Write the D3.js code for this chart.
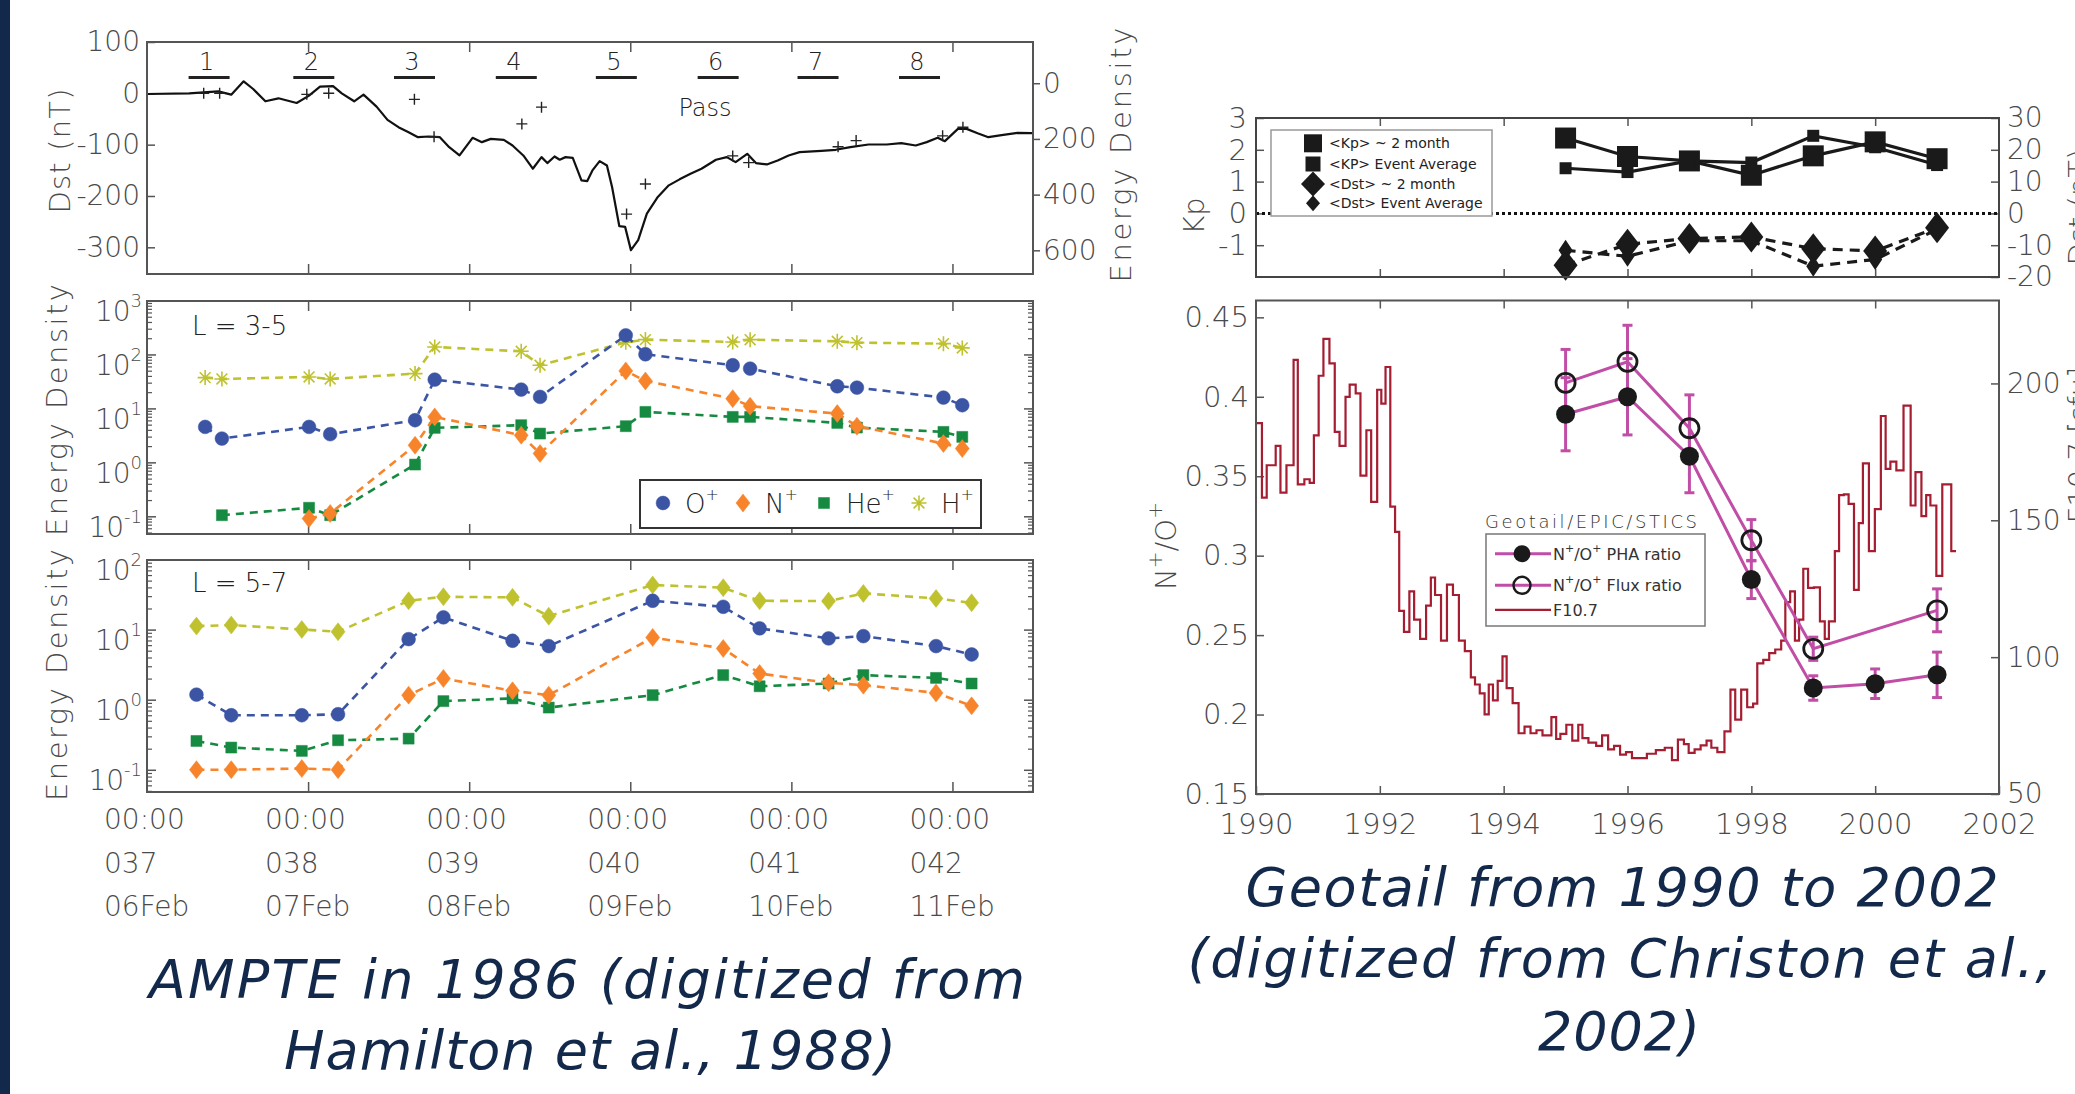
<!DOCTYPE html>
<html>
<head>
<meta charset="utf-8">
<script src="https://cdn.jsdelivr.net/npm/d3@7"></script>
<style>
  body { margin: 0; background: #fff; }
  svg text { font-family: "DejaVu Sans", sans-serif; }
</style>
</head>
<body>
<svg id="fig" width="2075" height="1094"></svg>
<script>
// ---------- AMPTE 1986 (left figure) ----------
// Dst trace, day of year 1986 vs nT
const dstDay = [37.000,37.262,37.442,37.523,37.600,37.659,37.735,37.816,37.929,38.006,38.074,38.155,38.209,38.286,38.344,38.425,38.493,38.561,38.624,38.682,38.750,38.818,38.876,38.940,39.021,39.079,39.134,39.215,39.269,39.336,39.395,39.449,39.485,39.530,39.562,39.598,39.643,39.697,39.733,39.765,39.810,39.855,39.887,39.932,39.968,40.004,40.049,40.103,40.171,40.239,40.306,40.374,40.442,40.532,40.599,40.654,40.726,40.780,40.848,40.915,40.983,41.051,41.186,41.276,41.366,41.479,41.592,41.682,41.772,41.840,41.908,41.953,42.034,42.088,42.156,42.223,42.305,42.404,42.494];
const dstVal = [-1.3,0,3.9,-2.6,23.3,8.4,-15.5,-9.7,-18.8,-4.5,12.9,14.2,0,-15.5,-2.6,-25.9,-51.8,-66.0,-75.7,-85.4,-84.1,-85.4,-104.9,-121.0,-86.7,-95.1,-88.7,-90.6,-101.6,-121.0,-146.9,-124.3,-135.9,-123.0,-129.4,-124.3,-125.6,-169.6,-170.9,-150.2,-132.0,-140.5,-182.5,-258.9,-260.2,-305.5,-286.1,-234.3,-201.9,-179.3,-167.6,-156.6,-146.9,-129.4,-124.3,-134.0,-117.8,-135.9,-138.5,-130.7,-121.0,-114.6,-112.0,-110.0,-104.9,-99.7,-99.7,-97.1,-101.6,-95.1,-86.7,-93.2,-69.3,-69.3,-77.7,-85.4,-81.6,-77.0,-77.7];

// total energy density (right axis of top panel, "+" marks)
const plusDay = [37.352,37.451,37.992,38.128,38.660,38.782,39.327,39.449,39.977,40.094,40.636,40.735,41.290,41.402,41.939,42.065];
const plusVal = [36,36,40,36,58,192,146,86,470,362,261,285,228,206,189,158];

const passLabels = ["1","2","3","4","5","6","7","8"];
const passDay = [37.37,38.02,38.645,39.277,39.898,40.53,41.15,41.78];

const dayTicks = [37,38,39,40,41,42];
const dayTime = ["00:00","00:00","00:00","00:00","00:00","00:00"];
const dayDoy = ["037","038","039","040","041","042"];
const dayDate = ["06Feb","07Feb","08Feb","09Feb","10Feb","11Feb"];

// L = 3-5
const tL35 = [37.361,37.465,38.006,38.137,38.664,38.786,39.323,39.440,39.972,40.094,40.636,40.744,41.285,41.407,41.944,42.061];
const oL35 = [4.64,2.82,4.64,3.40,6.17,34.9,22.8,16.7,231,103,64.4,55.8,26.3,24.8,16.2,11.7];
const nL35 = [null,null,0.093,0.115,2.12,7.11,3.25,1.49,50.6,33.0,15.5,11.2,8.2,4.78,2.28,1.84];
const heL35 = [null,0.107,0.147,0.107,0.93,4.45,4.99,3.49,4.78,8.8,7.11,7.11,5.5,4.51,3.75,3.03];
const hL35 = [38.0,35.9,39.1,35.9,45.1,140.6,116.9,64.4,171.8,192.4,174,192,179,169,162,135];

// L = 5-7
const tL57 = [37.307,37.523,37.961,38.186,38.624,38.840,39.269,39.494,40.139,40.577,40.803,41.231,41.447,41.898,42.119];
const oL57 = [1.20,0.61,0.61,0.63,7.43,15.2,7.04,5.91,26.2,21.5,10.6,7.6,8.2,5.91,4.49];
const nL57 = [0.102,0.102,0.106,0.102,1.18,2.04,1.36,1.18,7.85,5.47,2.40,1.77,1.64,1.27,0.83];
const heL57 = [0.262,0.211,0.189,0.268,0.283,0.97,1.06,0.785,1.18,2.28,1.58,1.73,2.28,2.08,1.73];
const hL57 = [11.4,11.8,10.2,9.47,26.2,29.9,29.3,15.8,44.0,40.3,26.2,25.9,33.4,28.3,24.5];

// ---------- Geotail 1990-2002 (right figure) ----------
const kpYears = [1995,1996,1997,1998,1999,2000,2001];
const kp2mo = [2.37,1.79,1.65,1.2,1.81,2.25,1.72];
const kpEvt = [1.42,1.3,1.65,1.6,2.44,2.08,1.52];
const dst2mo = [-16.3,-9.7,-7.9,-7.4,-11.1,-11.8,-4.5];
const dstEvt = [-11.6,-13.5,-8.6,-8.6,-16.6,-14.5,-5.0];

const phaYears = [1995,1996,1997,1998,1999,2000,2001];
const phaRatio = [0.389,0.400,0.3626,0.285,0.2167,0.2194,0.225];
const phaErr = [0.023,0.024,0.023,0.012,0.0077,0.0093,0.0143];
const fluxYears = [1995,1996,1997,1998,1999,2001];
const fluxRatio = [0.4088,0.422,0.3802,0.3097,0.2414,0.2656];
const fluxErr = [0.021,0.023,0.021,0.013,0.0073,0.0135];

// F10.7 (step series, value holds until next year entry)
const f107Year = [1990.000,1990.096,1990.173,1990.318,1990.395,1990.492,1990.607,1990.675,1990.781,1990.867,1990.935,1991.012,1991.089,1991.186,1991.272,1991.349,1991.446,1991.513,1991.610,1991.687,1991.783,1991.860,1991.957,1992.024,1992.092,1992.169,1992.246,1992.313,1992.390,1992.477,1992.554,1992.651,1992.747,1992.824,1992.892,1992.988,1993.084,1993.181,1993.277,1993.373,1993.470,1993.537,1993.614,1993.692,1993.759,1993.827,1993.904,1993.981,1994.048,1994.145,1994.241,1994.337,1994.434,1994.530,1994.627,1994.771,1994.848,1994.916,1995.012,1995.108,1995.205,1995.272,1995.369,1995.494,1995.590,1995.687,1995.783,1995.880,1995.976,1996.072,1996.169,1996.313,1996.458,1996.602,1996.718,1996.814,1996.911,1996.988,1997.084,1997.181,1997.277,1997.354,1997.451,1997.566,1997.663,1997.740,1997.836,1997.933,1998.029,1998.096,1998.193,1998.289,1998.386,1998.482,1998.549,1998.627,1998.704,1998.771,1998.839,1998.916,1999.012,1999.108,1999.186,1999.253,1999.349,1999.417,1999.494,1999.571,1999.658,1999.735,1999.802,1999.899,1999.995,2000.092,2000.169,2000.246,2000.342,2000.458,2000.573,2000.651,2000.747,2000.824,2000.892,2000.988,2001.084,2001.152,2001.229,2001.306];
const f107Val = [185.5,158.3,170.1,177.2,160.1,170.1,208.6,163.1,165.0,163.7,181.0,202.8,216.3,207.3,182.3,177.2,195.1,199.6,196.4,166.3,182.9,156.7,197.7,192.6,206.0,155.0,145.8,116.9,109.2,124.0,113.7,106.7,118.8,129.1,122.7,106.0,126.5,122.7,106.0,102.2,92.6,90.0,86.8,79.1,90.0,84.2,91.3,100.3,88.7,83.2,72.2,74.6,72.2,73.3,71.4,78.1,70.1,72.0,75.3,69.5,75.3,70.4,68.8,67.6,71.4,66.3,67.6,64.4,65.3,63.1,63.1,64.7,66.0,66.9,62.4,69.9,68.2,65.0,66.3,67.8,69.5,66.9,65.3,72.9,88.1,77.2,88.1,81.7,83.0,97.7,99.0,101.5,102.8,106.0,120.1,124.0,106.0,113.7,132.3,125.3,125.5,113.1,106.7,113.1,138.7,159.2,159.5,156.0,124.6,149.0,170.8,138.7,154.1,188.1,168.8,171.4,168.2,191.9,155.4,167.6,151.5,159.2,155.4,129.7,163.1,163.1,138.7,138.7];

const yearTicks = [1990,1992,1994,1996,1998,2000,2002];

// ---------- drawing ----------
const W = 2075, H = 1094;
const FW = 300;
const TXT = "#4a4a4a";
const AX = "#555";
const C = { o: "#3b54a4", n: "#f7842a", he: "#168a40", h: "#bfc22e", mag: "#c14ea6", red: "#a51d31", navy: "#13294b" };

const svg = d3.select("#fig");
svg.append("rect").attr("width", W).attr("height", H).attr("fill", "#fff");
svg.append("rect").attr("width", 10).attr("height", H).attr("fill", C.navy);

const diamond = (w, h) => `M0,${-h / 2}L${w / 2},0L0,${h / 2}L${-w / 2},0Z`;
const square = s => `M${-s / 2},${-s / 2}h${s}v${s}h${-s}Z`;
const asterisk = s => { const a = s / 2, b = a * 0.72; return `M0,${-a}V${a}M${-a},0H${a}M${-b},${-b}L${b},${b}M${-b},${b}L${b},${-b}`; };
const plus = s => `M0,${-s / 2}V${s / 2}M${-s / 2},0H${s / 2}`;

function styleAxis(g, size) {
  g.select(".domain").remove();
  g.selectAll(".tick line").attr("stroke", AX).attr("stroke-width", 1.5);
  g.selectAll(".tick text").attr("fill", TXT).attr("font-size", size || 28)
    .attr("font-family", "DejaVu Sans, sans-serif").attr("font-weight", FW);
}

function frame(x0, x1, y0, y1, col, w) {
  svg.append("rect").attr("x", x0).attr("y", y0).attr("width", x1 - x0).attr("height", y1 - y0)
    .attr("fill", "none").attr("stroke", col || AX).attr("stroke-width", w || 2);
}

function supText(sel, parts, supSize, shift) {
  parts.forEach(([s, sup], i) => {
    const t = sel.append("tspan").text(s);
    if (sup) t.attr("font-size", supSize).attr("dy", -shift);
    else if (i > 0 && parts[i - 1][1]) t.attr("dy", shift);
  });
}

function vTitle(x, y, str, size, len, col) {
  const t = svg.append("text").attr("transform", `translate(${x},${y}) rotate(-90)`)
    .attr("text-anchor", "middle").attr("font-size", size).attr("font-weight", FW)
    .attr("fill", col || TXT).text(str);
  if (len) t.attr("textLength", len);
  return t;
}

// ===== left figure =====
const L = { x0: 147, x1: 1033 };
const P1 = { y0: 42, y1: 274 }, P2 = { y0: 301, y1: 534 }, P3 = { y0: 560, y1: 792 };
const xDay = d3.scaleLinear().domain([37, 42.5]).range([L.x0, L.x1]);
const yDst = d3.scaleLinear().domain([-352, 100]).range([P1.y1, P1.y0]);
const yEn = d3.scaleLinear().domain([-148, 685]).range([P1.y0, P1.y1]);
const yL35 = d3.scaleLog().domain([0.048, 1000]).range([P2.y1, P2.y0]);
const yL57 = d3.scaleLog().domain([0.049, 100]).range([P3.y1, P3.y0]);

[P1, P2, P3].forEach(p => {
  styleAxis(svg.append("g").attr("transform", `translate(0,${p.y1})`)
    .call(d3.axisBottom(xDay).tickValues(dayTicks.slice(1)).tickSizeInner(-10).tickSizeOuter(0).tickFormat("")));
  styleAxis(svg.append("g").attr("transform", `translate(0,${p.y0})`)
    .call(d3.axisTop(xDay).tickValues(dayTicks.slice(1)).tickSizeInner(-10).tickSizeOuter(0).tickFormat("")));
});

// top panel axes
styleAxis(svg.append("g").attr("transform", `translate(${L.x0},0)`)
  .call(d3.axisLeft(yDst).tickValues([100, 0, -100, -200, -300]).tickSizeInner(-8).tickSizeOuter(0).tickPadding(7).tickFormat(d => String(d))));
styleAxis(svg.append("g").attr("transform", `translate(${L.x1},0)`)
  .call(d3.axisRight(yEn).tickValues([0, 200, 400, 600]).tickSizeInner(7).tickSizeOuter(0).tickPadding(3).tickFormat(d => String(d))));

// log axes
function logAxis(scale, decades, p) {
  const g = svg.append("g");
  const minor = scale.ticks().filter(v => !decades.includes(v));
  [[L.x0, 1], [L.x1, -1]].forEach(([x, k]) => {
    g.selectAll(null).data(decades).join("line")
      .attr("x1", x).attr("x2", x + 9 * k).attr("y1", d => scale(d)).attr("y2", d => scale(d))
      .attr("stroke", AX).attr("stroke-width", 1.5);
    g.selectAll(null).data(minor).join("line")
      .attr("x1", x).attr("x2", x + 5 * k).attr("y1", d => scale(d)).attr("y2", d => scale(d))
      .attr("stroke", AX).attr("stroke-width", 1.2);
  });
  decades.forEach(v => {
    const t = g.append("text").attr("x", L.x0 - 5).attr("y", scale(v) + 20)
      .attr("text-anchor", "end").attr("font-size", 28).attr("font-weight", FW).attr("fill", TXT);
    supText(t, [["10", false], [String(Math.round(Math.log10(v))), true]], 18, 14);
  });
}
logAxis(yL35, [0.1, 1, 10, 100, 1000], P2);
logAxis(yL57, [0.1, 1, 10, 100], P3);

// Dst trace + energy density
const dstPts = dstDay.map((d, i) => [d, dstVal[i]]);
svg.append("path").datum(dstPts)
  .attr("d", d3.line().x(d => xDay(d[0])).y(d => yDst(d[1])))
  .attr("fill", "none").attr("stroke", "#111").attr("stroke-width", 2.2).attr("stroke-linejoin", "round");
svg.selectAll(null).data(plusDay.map((d, i) => [d, plusVal[i]])).join("path")
  .attr("transform", d => `translate(${xDay(d[0])},${yEn(d[1])})`)
  .attr("d", plus(11)).attr("stroke", "#222").attr("stroke-width", 1.4).attr("fill", "none");

// pass labels
passDay.forEach((d, i) => {
  svg.append("text").attr("x", xDay(d)).attr("y", 70).attr("text-anchor", "middle")
    .attr("font-size", 24).attr("font-weight", FW).attr("fill", "#222").text(passLabels[i]);
  svg.append("line").attr("x1", xDay(d) - 18).attr("x2", xDay(d) + 23).attr("y1", 77.5).attr("y2", 77.5)
    .attr("stroke", "#222").attr("stroke-width", 3);
});
svg.append("text").attr("x", 705).attr("y", 116).attr("text-anchor", "middle")
  .attr("font-size", 24).attr("font-weight", FW).attr("fill", "#222").text("Pass");

// species series
function series(times, vals, yS, col, mk, hollow) {
  const pts = times.map((t, i) => [t, vals[i]]).filter(d => d[1] != null);
  svg.append("path").datum(pts)
    .attr("d", d3.line().x(d => xDay(d[0])).y(d => yS(d[1])))
    .attr("fill", "none").attr("stroke", col).attr("stroke-width", 2.6).attr("stroke-dasharray", "8,6");
  svg.selectAll(null).data(pts).join("path")
    .attr("transform", d => `translate(${xDay(d[0])},${yS(d[1])})`)
    .attr("d", mk)
    .attr("fill", hollow ? "none" : col).attr("stroke", col).attr("stroke-width", hollow ? 1.6 : 0.5);
}
const circ = d3.symbol(d3.symbolCircle, 150)();
series(tL35, hL35, yL35, C.h, asterisk(15), true);
series(tL35, heL35, yL35, C.he, square(11));
series(tL35, nL35, yL35, C.n, diamond(14, 18));
series(tL35, oL35, yL35, C.o, circ);

series(tL57, hL57, yL57, C.h, diamond(14, 18));
series(tL57, heL57, yL57, C.he, square(11));
series(tL57, nL57, yL57, C.n, diamond(14, 18));
series(tL57, oL57, yL57, C.o, circ);

frame(L.x0, L.x1, P1.y0, P1.y1);
frame(L.x0, L.x1, P2.y0, P2.y1);
frame(L.x0, L.x1, P3.y0, P3.y1);

// panel labels
svg.append("text").attr("x", 192).attr("y", 335).attr("font-size", 26).attr("font-weight", FW).attr("fill", "#222").text("L = 3-5");
svg.append("text").attr("x", 192).attr("y", 592).attr("font-size", 26).attr("font-weight", FW).attr("fill", "#222").text("L = 5-7");

// legend L=3-5
svg.append("rect").attr("x", 640).attr("y", 480).attr("width", 341).attr("height", 48)
  .attr("fill", "#fff").attr("stroke", "#333").attr("stroke-width", 2);
const legItems = [
  { x: 663, mk: circ, col: C.o, lab: "O", hollow: false },
  { x: 743, mk: diamond(14, 18), col: C.n, lab: "N", hollow: false },
  { x: 824, mk: square(11), col: C.he, lab: "He", hollow: false },
  { x: 919, mk: asterisk(15), col: C.h, lab: "H", hollow: true }
];
legItems.forEach(it => {
  svg.append("path").attr("transform", `translate(${it.x},503)`).attr("d", it.mk)
    .attr("fill", it.hollow ? "none" : it.col).attr("stroke", it.col).attr("stroke-width", it.hollow ? 1.6 : 0.5);
  const t = svg.append("text").attr("x", it.x + 22).attr("y", 513).attr("font-size", 26)
    .attr("font-weight", FW).attr("fill", "#222");
  supText(t, [[it.lab, false], ["+", true]], 16, 13);
});

// x labels (3 rows)
dayTicks.forEach((d, i) => {
  const x = xDay(d) - 43;
  [[dayTime[i], 829], [dayDoy[i], 873], [dayDate[i], 916]].forEach(([s, y]) => {
    svg.append("text").attr("x", x).attr("y", y).attr("font-size", 28).attr("font-weight", FW)
      .attr("fill", TXT).text(s);
  });
});

// axis titles (left figure)
vTitle(70, 151, "Dst (nT)", 29, 125);
vTitle(67, 410, "Energy Density", 29, 252);
vTitle(67, 675, "Energy Density", 29, 252);
vTitle(1131, 155, "Energy Density", 29, 255);

// ===== right figure =====
const R = { x0: 1256, x1: 1999 };
const K = { y0: 118, y1: 277 }, Q = { y0: 300.5, y1: 794 };
const xYr = d3.scaleLinear().domain([1990, 2002]).range([R.x0, R.x1]);
const yKp = d3.scaleLinear().domain([-2, 3]).range([K.y1, K.y0]);
const yDstR = d3.scaleLinear().domain([-20, 30]).range([K.y1, K.y0]);
const yRat = d3.scaleLinear().domain([0.15, 0.4606]).range([Q.y1, Q.y0]);
const yF = d3.scaleLinear().domain([50, 230.3]).range([Q.y1, Q.y0]);

[K, Q].forEach(p => {
  styleAxis(svg.append("g").attr("transform", `translate(0,${p.y0})`)
    .call(d3.axisTop(xYr).tickValues(yearTicks.slice(1, -1)).tickSizeInner(-8).tickSizeOuter(0).tickFormat("")));
});
styleAxis(svg.append("g").attr("transform", `translate(0,${K.y1})`)
  .call(d3.axisBottom(xYr).tickValues(yearTicks.slice(1, -1)).tickSizeInner(-8).tickSizeOuter(0).tickFormat("")));
styleAxis(svg.append("g").attr("transform", `translate(0,${Q.y1})`)
  .call(d3.axisBottom(xYr).tickValues(yearTicks).tickSizeInner(-8).tickSizeOuter(0).tickPadding(19).tickFormat(d => String(d))), 29);

styleAxis(svg.append("g").attr("transform", `translate(${R.x0},0)`)
  .call(d3.axisLeft(yKp).tickValues([-1, 0, 1, 2, 3]).tickSizeInner(-8).tickSizeOuter(0).tickPadding(9).tickFormat(d => String(d))), 29);
styleAxis(svg.append("g").attr("transform", `translate(${R.x1},0)`)
  .call(d3.axisRight(yDstR).tickValues([-20, -10, 0, 10, 20, 30]).tickSizeInner(-8).tickSizeOuter(0).tickPadding(8).tickFormat(d => String(d))), 28);
styleAxis(svg.append("g").attr("transform", `translate(${R.x0},0)`)
  .call(d3.axisLeft(yRat).tickValues([0.15, 0.2, 0.25, 0.3, 0.35, 0.4, 0.45]).tickSizeInner(-8).tickSizeOuter(0).tickPadding(7).tickFormat(d => String(+d.toFixed(2)))), 29);
styleAxis(svg.append("g").attr("transform", `translate(${R.x1},0)`)
  .call(d3.axisRight(yF).tickValues([50, 100, 150, 200]).tickSizeInner(-8).tickSizeOuter(0).tickPadding(8).tickFormat(d => String(d))), 28);

// Kp panel
svg.append("line").attr("x1", R.x0).attr("x2", R.x1).attr("y1", yKp(0)).attr("y2", yKp(0))
  .attr("stroke", "#111").attr("stroke-width", 3).attr("stroke-dasharray", "3,3");

const kpLine = d3.line().x(d => xYr(d[0])).y(d => yKp(d[1]));
const dsLine = d3.line().x(d => xYr(d[0])).y(d => yDstR(d[1]));
const kpA = kpYears.map((y, i) => [y, kp2mo[i]]), kpB = kpYears.map((y, i) => [y, kpEvt[i]]);
const dsA = kpYears.map((y, i) => [y, dst2mo[i]]), dsB = kpYears.map((y, i) => [y, dstEvt[i]]);
[kpA, kpB].forEach(d => svg.append("path").datum(d).attr("d", kpLine).attr("fill", "none").attr("stroke", "#1a1a1a").attr("stroke-width", 3.2));
[dsA, dsB].forEach(d => svg.append("path").datum(d).attr("d", dsLine).attr("fill", "none").attr("stroke", "#1a1a1a").attr("stroke-width", 3.2).attr("stroke-dasharray", "10,7"));
function marks(data, yS, mk) {
  svg.selectAll(null).data(data).join("path")
    .attr("transform", d => `translate(${xYr(d[0])},${yS(d[1])})`).attr("d", mk).attr("fill", "#1a1a1a");
}
marks(kpA, yKp, square(21));
marks(kpB, yKp, square(12));
marks(dsA, yDstR, diamond(24, 31));
marks(dsB, yDstR, diamond(14, 21));

// Kp legend
svg.append("rect").attr("x", 1271).attr("y", 130).attr("width", 221).attr("height", 86)
  .attr("fill", "#fff").attr("stroke", "#999").attr("stroke-width", 1.5);
const kpLeg = [
  { y: 143.3, mk: square(18), lab: "<Kp> ~ 2 month" },
  { y: 164, mk: square(15), lab: "<KP> Event Average" },
  { y: 184, mk: diamond(24, 25), lab: "<Dst> ~ 2 month" },
  { y: 203.3, mk: diamond(14, 16), lab: "<Dst> Event Average" }
];
kpLeg.forEach(r => {
  svg.append("path").attr("transform", `translate(1313,${r.y})`).attr("d", r.mk).attr("fill", "#1a1a1a");
  svg.append("text").attr("x", 1329).attr("y", r.y + 5).attr("font-size", 14).attr("fill", "#222").text(r.lab);
});

// F10.7 step line
svg.append("path").datum(f107Year.map((y, i) => [y, f107Val[i]]))
  .attr("d", d3.line().curve(d3.curveStepAfter).x(d => xYr(d[0])).y(d => yF(d[1])))
  .attr("fill", "none").attr("stroke", C.red).attr("stroke-width", 2.2);

// ratio lines, error bars, markers
const rLine = d3.line().x(d => xYr(d[0])).y(d => yRat(d[1]));
const pha = phaYears.map((y, i) => [y, phaRatio[i], phaErr[i]]);
const flux = fluxYears.map((y, i) => [y, fluxRatio[i], fluxErr[i]]);
[pha, flux].forEach(d => svg.append("path").datum(d).attr("d", rLine).attr("fill", "none").attr("stroke", C.mag).attr("stroke-width", 3));
function errBars(data) {
  const g = svg.append("g").attr("stroke", C.mag).attr("stroke-width", 3);
  data.forEach(([y, v, e]) => {
    const x = xYr(y);
    g.append("line").attr("x1", x).attr("x2", x).attr("y1", yRat(v - e)).attr("y2", yRat(v + e));
    [v - e, v + e].forEach(u => g.append("line").attr("x1", x - 5).attr("x2", x + 5).attr("y1", yRat(u)).attr("y2", yRat(u)));
  });
}
errBars(pha);
errBars(flux);
svg.selectAll(null).data(pha).join("circle").attr("cx", d => xYr(d[0])).attr("cy", d => yRat(d[1])).attr("r", 9.5).attr("fill", "#1a1a1a");
svg.selectAll(null).data(flux).join("circle").attr("cx", d => xYr(d[0])).attr("cy", d => yRat(d[1])).attr("r", 9.5)
  .attr("fill", "none").attr("stroke", "#1a1a1a").attr("stroke-width", 2.8);

// ratio legend
svg.append("text").attr("x", 1591).attr("y", 528).attr("text-anchor", "middle").attr("font-size", 18)
  .attr("font-weight", FW).attr("fill", "#333").attr("textLength", 212).text("Geotail/EPIC/STICS");
svg.append("rect").attr("x", 1486).attr("y", 534).attr("width", 219).attr("height", 92)
  .attr("fill", "#fff").attr("stroke", "#777").attr("stroke-width", 1.5);
const rLeg = [
  { y: 553.8, col: C.mag, w: 3, mk: "fill", parts: [["N", false], ["+", true], ["/O", false], ["+", true], [" PHA ratio", false]] },
  { y: 585.3, col: C.mag, w: 3, mk: "open", parts: [["N", false], ["+", true], ["/O", false], ["+", true], [" Flux ratio", false]] },
  { y: 609.9, col: C.red, w: 2.2, mk: null, parts: [["F10.7", false]] }
];
rLeg.forEach(r => {
  svg.append("line").attr("x1", 1495).attr("x2", 1551).attr("y1", r.y).attr("y2", r.y).attr("stroke", r.col).attr("stroke-width", r.w);
  if (r.mk === "fill") svg.append("circle").attr("cx", 1522).attr("cy", r.y).attr("r", 8.5).attr("fill", "#1a1a1a");
  if (r.mk === "open") svg.append("circle").attr("cx", 1522).attr("cy", r.y).attr("r", 8.5).attr("fill", "none").attr("stroke", "#1a1a1a").attr("stroke-width", 2.5);
  const t = svg.append("text").attr("x", 1553).attr("y", r.y + 6).attr("font-size", 16).attr("fill", "#333");
  supText(t, r.parts, 11, 8);
});

frame(R.x0, R.x1, K.y0, K.y1, "#444", 2);
frame(R.x0, R.x1, Q.y0, Q.y1, "#555", 2);

// axis titles (right figure); the right-hand ones run off the page edge as in the source
vTitle(1204, 216, "Kp", 29);
const nt = svg.append("text").attr("transform", "translate(1176,546) rotate(-90)").attr("text-anchor", "middle")
  .attr("font-size", 29).attr("font-weight", FW).attr("fill", TXT);
supText(nt, [["N", false], ["+", true], ["/O", false], ["+", true]], 20, 14);
vTitle(2089, 207, "Dst (nT)", 29);
vTitle(2089, 445, "F10.7 [sfu]", 29);

// captions
function caption(x, y, str, len) {
  svg.append("text").attr("x", x).attr("y", y).attr("text-anchor", "middle")
    .attr("font-size", 54).attr("font-style", "italic").attr("fill", C.navy)
    .attr("textLength", len).text(str);
}
caption(587, 998, "AMPTE in 1986 (digitized from", 876);
caption(590, 1069, "Hamilton et al., 1988)", 612);
caption(1622, 906, "Geotail from 1990 to 2002", 753);
caption(1620, 977, "(digitized from Christon et al.,", 865);
caption(1619, 1050, "2002)", 162);
</script>
</body>
</html>
